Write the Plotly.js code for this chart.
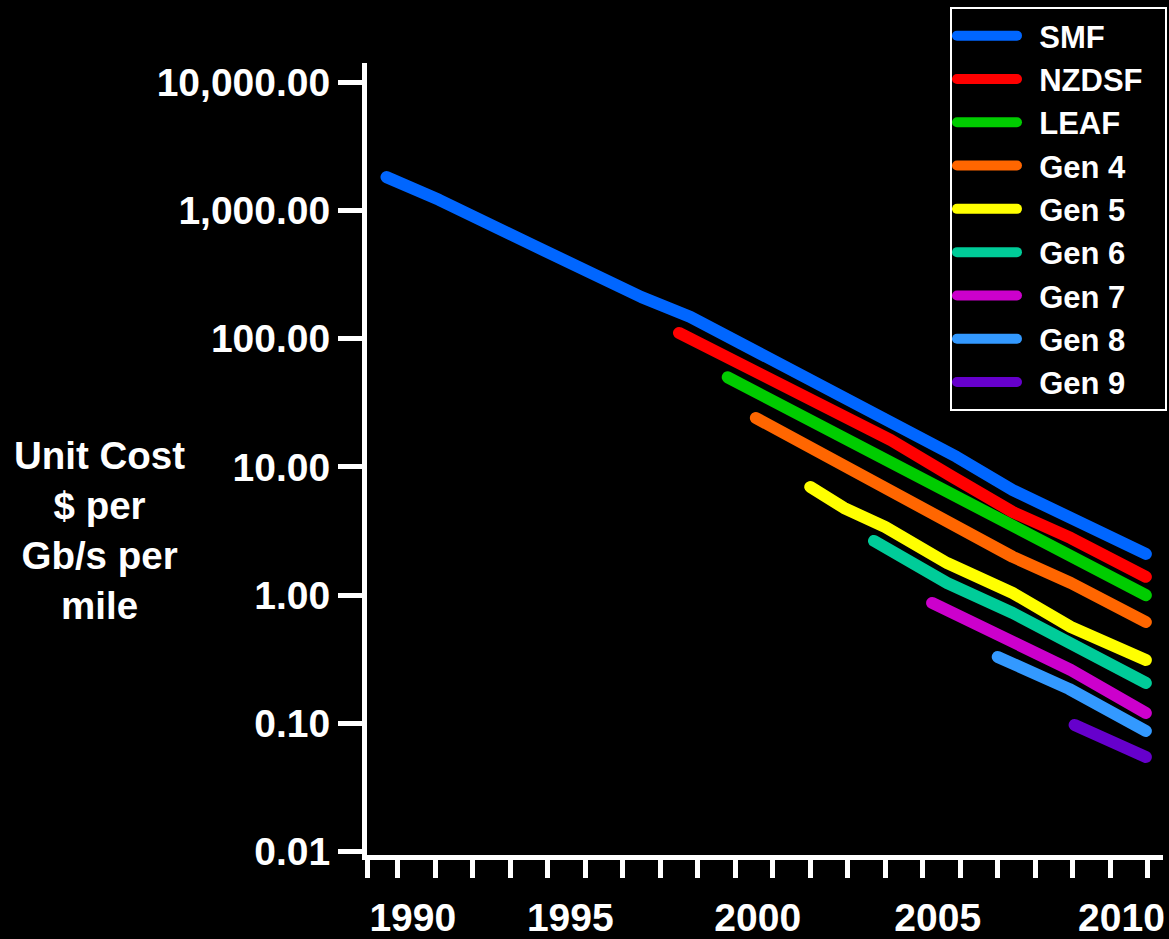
<!DOCTYPE html>
<html>
<head>
<meta charset="utf-8">
<script src="https://cdn.plot.ly/plotly-3.0.1.min.js"></script>
<style>
  html, body { margin: 0; padding: 0; background: #000; }
  #chart { width: 1169px; height: 939px; }
  .scatterlayer .js-line, .legendlines path { stroke-linecap: round; stroke-linejoin: round; }
</style>
</head>
<body>
<div id="chart"></div>
<script>
// ---- Data ----
const seriesNames  = ['SMF', 'NZDSF', 'LEAF', 'Gen 4', 'Gen 5', 'Gen 6', 'Gen 7', 'Gen 8', 'Gen 9'];
const seriesColors = ['#0066FF', '#FF0000', '#00CC00', '#FF6600', '#FFFF00', '#00CC99', '#CC00CC', '#3399FF', '#6600CC'];

const smfYears   = [1990.2, 1991.6, 1994.2, 1997.0, 1998.3, 2001.15, 2002.5, 2003.8, 2005.4, 2006.9, 2008.5, 2010.45];
const smfCost    = [1820, 1210, 520, 211, 148, 54, 33.3, 22, 12, 6.6, 3.86, 2.1];

const nzdsfYears = [1998.0, 2000.65, 2001.95, 2003.65, 2005.3, 2006.9, 2008.45, 2010.45];
const nzdsfCost  = [111, 45, 28.8, 16.2, 8.35, 4.45, 2.79, 1.39];

const leafYears  = [1999.3, 2001.85, 2003.6, 2005.05, 2006.9, 2008.45, 2010.45];
const leafCost   = [50, 20.5, 11.2, 6.4, 3.34, 1.99, 1.0];

const gen4Years  = [2000.05, 2001.9, 2003.65, 2005.15, 2006.9, 2008.45, 2010.45];
const gen4Cost   = [24.1, 12.2, 6.4, 3.86, 1.99, 1.245, 0.618];

const gen5Years  = [2001.5, 2002.4, 2003.5, 2005.15, 2006.9, 2008.45, 2010.45];
const gen5Cost   = [6.98, 4.79, 3.40, 1.78, 1.04, 0.565, 0.3125];

const gen6Years  = [2003.2, 2005.15, 2006.9, 2008.45, 2010.45];
const gen6Cost   = [2.65, 1.245, 0.727, 0.409, 0.207];

const gen7Years  = [2004.75, 2006.85, 2008.45, 2010.45];
const gen7Cost   = [0.87, 0.4475, 0.261, 0.1206];

const gen8Years  = [2006.5, 2008.4, 2010.45];
const gen8Cost   = [0.33, 0.186, 0.0873];

const gen9Years  = [2008.55, 2010.45];
const gen9Cost   = [0.0973, 0.0548];

const xTickYears  = [1990, 1995, 2000, 2005, 2010];
const xTickLabels = ['1990', '1995', '2000', '2005', '2010'];
const yTickValues = [0.01, 0.1, 1, 10, 100, 1000, 10000];
const yTickLabels = ['0.01', '0.10', '1.00', '10.00', '100.00', '1,000.00', '10,000.00'];
const yAxisTitle  = 'Unit Cost<br>$ per<br>Gb/s per<br>mile';

// ---- Build traces ----
const allYears = [smfYears, nzdsfYears, leafYears, gen4Years, gen5Years, gen6Years, gen7Years, gen8Years, gen9Years];
const allCosts = [smfCost, nzdsfCost, leafCost, gen4Cost, gen5Cost, gen6Cost, gen7Cost, gen8Cost, gen9Cost];

// padding around legend labels (gap after the swatch, room before the frame)
const LEGEND_PAD = '\u00A0\u00A0';

const traces = seriesNames.map((name, i) => ({
  type: 'scatter',
  mode: 'lines',
  name: LEGEND_PAD + name + LEGEND_PAD,
  x: allYears[i],
  y: allCosts[i],
  line: { color: seriesColors[i], width: 12 },
  hoverinfo: 'skip'
}));

const FONT = 'Liberation Sans, Arial, Helvetica, sans-serif';

// year-boundary tick marks (category style), first one at the axis origin
const xRange = [1989.68, 2010.907];
const boundaryTicks = [xRange[0] + 0.02];
for (let y = 1990.5; y <= 2010.5; y += 1) boundaryTicks.push(y);

// label placement as on the original slide: "1990" sits right of its year,
// "2010" slightly left so it stays inside the frame
const xTickOffsets = [0.9, 0.1, 0.1, -0.1, -0.2];
const xTickPositions = xTickYears.map((v, i) => v + xTickOffsets[i]);

const layout = {
  width: 1169,
  height: 939,
  paper_bgcolor: '#000000',
  plot_bgcolor: '#000000',
  margin: { l: 367, r: 6, t: 63, b: 84, autoexpand: false },
  font: { family: FONT, color: '#FFFFFF' },
  showlegend: true,
  xaxis: {
    range: xRange,
    showgrid: false,
    zeroline: false,
    showline: true,
    linecolor: '#FFFFFF',
    linewidth: 5,
    tickmode: 'array',
    tickvals: xTickPositions,
    ticktext: xTickLabels,
    ticks: 'outside',
    ticklen: 24,
    tickwidth: 1,
    tickcolor: 'rgba(0,0,0,0)',
    tickfont: { family: FONT, size: 39, color: '#FFFFFF', weight: 'bold' },
    minor: {
      tickmode: 'array',
      tickvals: boundaryTicks,
      ticks: 'outside',
      ticklen: 18,
      tickwidth: 5,
      tickcolor: '#FFFFFF',
      showgrid: false
    }
  },
  yaxis: {
    type: 'log',
    range: [-2.026, 4.15],
    showgrid: false,
    zeroline: false,
    showline: true,
    linecolor: '#FFFFFF',
    linewidth: 5,
    tickmode: 'array',
    tickvals: yTickValues,
    ticktext: yTickLabels,
    ticks: 'outside',
    ticklen: 24,
    tickwidth: 5,
    tickcolor: '#FFFFFF',
    tickfont: { family: FONT, size: 39, color: '#FFFFFF', weight: 'bold' }
  },
  legend: {
    x: 1.005,
    xanchor: 'right',
    y: 1.0707,
    yanchor: 'top',
    bgcolor: '#000000',
    bordercolor: '#FFFFFF',
    borderwidth: 2,
    itemwidth: 60,
    font: { family: FONT, size: 31, color: '#FFFFFF', weight: 'bold' }
  },
  annotations: [{
    text: yAxisTitle,
    xref: 'paper', yref: 'paper',
    x: -0.336, y: 0.41,
    xanchor: 'center', yanchor: 'middle',
    showarrow: false,
    align: 'center',
    font: { family: FONT, size: 38.5, color: '#FFFFFF', weight: 'bold' }
  }]
};

Plotly.newPlot('chart', traces, layout, { displayModeBar: false, staticPlot: true });
</script>
</body>
</html>
